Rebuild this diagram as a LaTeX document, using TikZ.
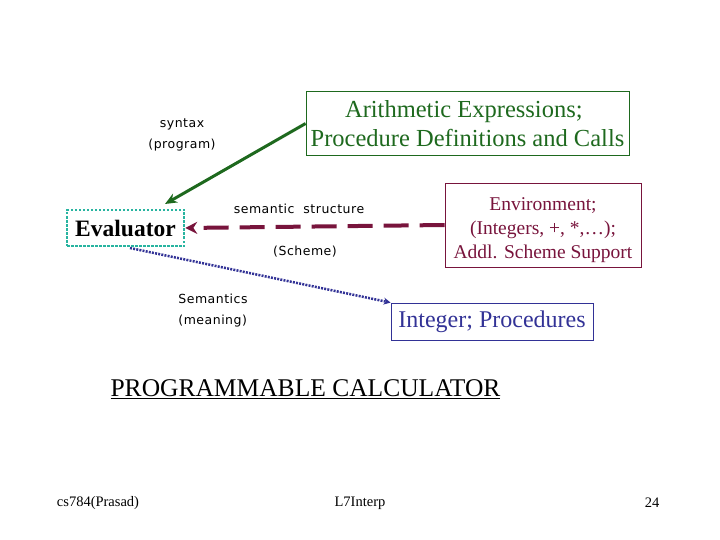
\documentclass[tikz,border=0pt]{standalone}
\usepackage{fontspec}
\setmainfont{Liberation Serif}
\newfontfamily\labelfont[LetterSpace=4]{DejaVu Sans}
\usetikzlibrary{arrows.meta}
\definecolor{synGreen}{RGB}{30,105,30}
\definecolor{envRed}{RGB}{120,20,60}
\definecolor{semBlue}{RGB}{50,50,150}
\definecolor{evalTeal}{RGB}{40,180,160}
\tikzset{
  note/.style={font=\labelfont\fontsize{12.5}{21}\selectfont, align=center},
  box/.style={draw, line width=0.8pt, inner sep=4pt, align=center}
}
\begin{document}
\begin{tikzpicture}[x=1pt,y=-1pt]
\useasboundingbox (0,0) rectangle (720,540);
\node[box, draw=synGreen, text=synGreen, font=\fontsize{24.5}{29}\selectfont,
  minimum width=323, minimum height=64] (syn) at (467.5,123.5)
  {\hspace*{-0.3em}Arithmetic Expressions;\\Procedure Definitions and Calls};
\node[draw=evalTeal, line width=2.5pt, dash pattern=on 2.5pt off 1.5pt, minimum width=117, minimum height=36,
  font=\fontsize{23.5}{26}\selectfont\bfseries] (eval) at (125.5,228) {Evaluator};
\node[box, draw=envRed, minimum width=196, minimum height=84] (env) at (543,225) {};
\node[text=envRed, align=center, font=\fontsize{19.5}{24}\selectfont] (envtext) at (543,230)
  {Environment;\\(Integers, +, *,\dots);\\Addl. Scheme Support};
\node[box, draw=semBlue, text=semBlue, font=\fontsize{24}{26}\selectfont,
  minimum width=202, minimum height=37] (val) at (492,321.5) {Integer; Procedures};
\node[note] (syntax) at (182,135) {syntax\\(program)};
\node[note] (struct) at (299,209) {semantic\ \ structure};
\node[note] (scheme) at (305,252) {(Scheme)};
\node[note, align=left] (meaning) at (213,311) {Semantics\\(meaning)};
\draw[synGreen, line width=3pt, -{Stealth[length=12pt,width=10pt]}] (syn.west) -- (165,204);
\draw[envRed, line width=4pt, dash pattern=on 25pt off 11pt,
  -{Stealth[length=12pt,width=12pt]}] (env.west) -- (eval.east);
\draw[semBlue, line width=2.5pt, dash pattern=on 2pt off 1.2pt, -{Stealth[length=7pt,width=7pt]}] (130,248) -- (val.north west);
\node[font=\fontsize{25.5}{28}\selectfont] (title) at (305.5,389)
  {\underline{PROGRAMMABLE CALCULATOR}};
\node[font=\fontsize{14.5}{16}\selectfont] (left) at (98,503) {cs784(Prasad)};
\node[font=\fontsize{14.5}{16}\selectfont] (mid) at (360,503) {L7Interp};
\node[font=\fontsize{14.5}{16}\selectfont] (right) at (652,503) {24};
\end{tikzpicture}
\end{document}
